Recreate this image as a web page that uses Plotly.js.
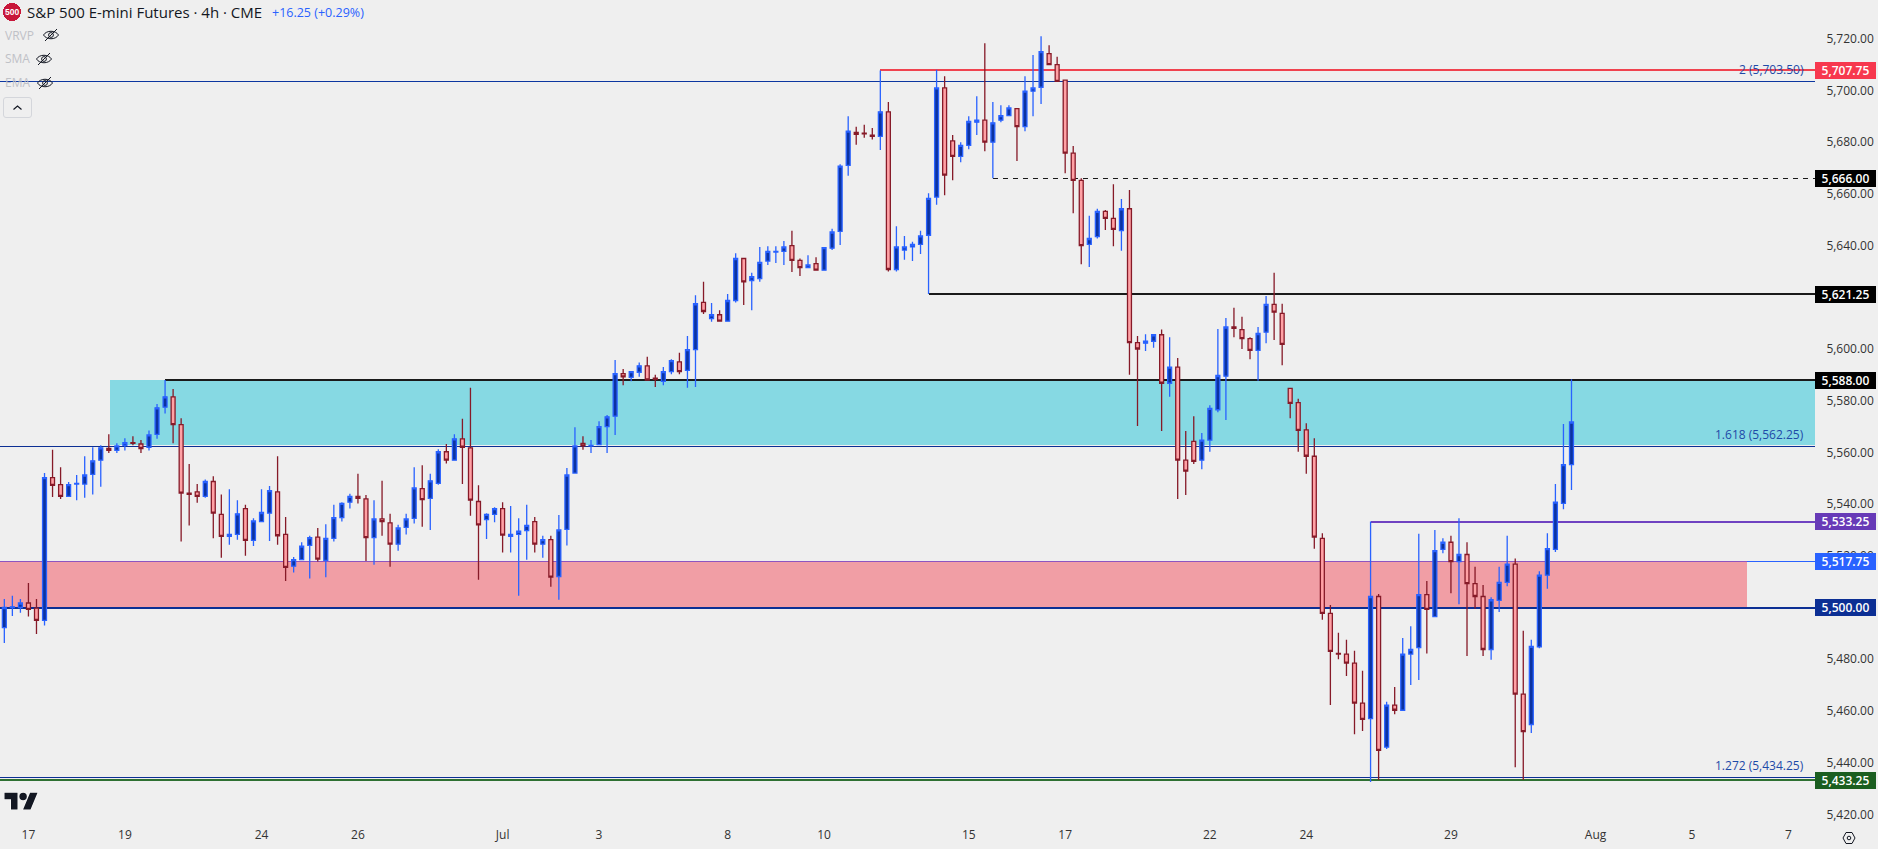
<!DOCTYPE html>
<html>
<head>
<meta charset="utf-8">
<title>S&amp;P 500 E-mini Futures</title>
<script src="https://cdn.plot.ly/plotly-3.0.1.min.js"></script>
<style>
html,body{margin:0;padding:0;background:#EFEFEF;overflow:hidden}
#chart{position:absolute;left:0;top:0;width:1878px;height:849px}
#icons{position:absolute;left:0;top:0;pointer-events:none}
.shapelayer path{shape-rendering:crispEdges}
</style>
</head>
<body>
<div id="chart"></div>
<svg id="icons" width="1878" height="849" xmlns="http://www.w3.org/2000/svg">
  <defs>
    <g id="eye" fill="none" stroke="#131722" stroke-width="1">
      <path d="M-7.5 0C-4.5 -5 4.5 -5 7.5 0C4.5 5 -4.5 5 -7.5 0Z"/>
      <circle r="2.4"/>
      <path d="M-6 6L6 -6"/>
    </g>
  </defs>
  <use href="#eye" x="51" y="35"/>
  <use href="#eye" x="44" y="59"/>
  <use href="#eye" x="45" y="83"/>
  <rect x="3.5" y="97.5" width="28" height="20" rx="2.5" fill="none" stroke="#D4D6DB"/>
  <path d="M13.5 109.5L17.5 106L21.5 109.5" fill="none" stroke="#131722" stroke-width="1.2"/>
  <g transform="translate(4.5,789) scale(0.93)">
    <path d="M14 22H7V11H0V4h14v18zM28 22h-8l7.5-18h8L28 22z" fill="#131722" stroke="#fff" stroke-width="1.2" paint-order="stroke"/>
    <circle cx="20" cy="8" r="4" fill="#131722" stroke="#fff" stroke-width="1.2" paint-order="stroke"/>
  </g>
  <path d="M1843 838L1846 832.5H1852L1855 838L1852 843.5H1846Z" fill="none" stroke="#131722" stroke-width="1"/>
  <circle cx="1849" cy="838" r="1.8" fill="none" stroke="#131722" stroke-width="1"/>
</svg>
<script>
const opens = [
5492.25,5500,5500,5501.75,5499.75,5495,5550.25,5547.5,5543,5547.75,
5547.75,5551.5,5557,5561.5,5560.75,5562.75,5563.75,5563.25,5562,5567,
5577.5,5581.5,5570.75,5544.25,5544.75,5543,5548.75,5536,5527.5,5528.25,
5538.25,5526,5533.25,5536.5,5544.75,5528.25,5516,5518.5,5524,5527.25,
5518.25,5526.75,5534.75,5540.75,5543,5542,5527,5534.25,5532.75,5524.5,
5531,5534.5,5546,5542.25,5548,5560.25,5557,5565.25,5561.75,5541,
5534,5536,5538.25,5527.5,5528.25,5529.75,5533.25,5524.5,5526.25,5512,
5530.25,5552,5563.5,5562.5,5563,5570,5574,5590.5,5589,5591,
5593.5,5588.75,5587.5,5591.25,5595,5591.75,5599.75,5618,5611.75,5613.25,
5610.75,5618.75,5635,5626.5,5627.25,5634,5637.5,5637.75,5640,5634.25,
5631.5,5633,5630.5,5639,5645.5,5671,5683.75,5683.5,5682.75,5682.25,
5691.75,5630.75,5638.25,5639.5,5640.5,5644,5658.75,5701,5680.5,5674.5,
5678.75,5687.75,5688.5,5680,5688.5,5690.25,5693,5686,5699.75,5701.25,
5714.25,5710,5704,5675.75,5665.25,5640.5,5643.5,5653.25,5650.5,5645.75,
5654.25,5602.5,5602.25,5603,5605.5,5586.75,5593,5557,5564.25,5557,
5564.75,5576.5,5589.5,5608.5,5607.5,5604,5599.5,5606.5,5617.25,5613.75,
5584.75,5579.25,5568.75,5558.5,5526.75,5497.75,5482.25,5482,5478.5,5463,
5457,5504.25,5446,5462.25,5460.25,5482,5484.5,5505,5496.5,5522.5,
5525.25,5517.75,5520.5,5509.25,5504.25,5483.75,5502.75,5509.75,5516.75,5466.5,
5454.75,5484.75,5512.5,5522.5,5540.25,5555.25];
const highs = [
5503.25,5504.5,5503.25,5509.5,5503.25,5552,5561,5554.25,5548.5,5551.25,
5558.5,5562,5562.75,5567,5563.5,5565.5,5566.25,5564.75,5568.5,5578.75,
5588,5584.5,5573.25,5555.5,5547.75,5549.5,5550.75,5543.75,5545.75,5541.5,
5539.75,5534.5,5545.75,5547,5558.5,5535,5519.5,5525.25,5527.75,5530.75,
5532.25,5539.75,5540.75,5544,5551.75,5543.5,5541.5,5549,5536.25,5532,
5536.25,5554.25,5555,5551.75,5561.25,5563.25,5567,5573,5585,5547.25,
5536.5,5538.75,5540.75,5539.25,5534.5,5539.75,5535,5527.75,5527.75,5535.75,
5554,5569.75,5566.25,5564.75,5572,5574.5,5595.75,5592.25,5591.25,5594.75,
5597,5590,5593,5596,5598.5,5605,5620.75,5626,5617.75,5615,
5621.25,5637,5635.25,5629.5,5639.5,5639.75,5639.75,5641.75,5645.75,5635,
5636.25,5635.5,5639.25,5646.5,5671.5,5690,5686,5686.75,5685.5,5707.75,
5695.5,5647.5,5643.75,5641.5,5645.75,5660.25,5708,5705.5,5682.75,5680,
5690,5697.75,5718.25,5695.5,5694.25,5694.25,5693,5705.5,5713.75,5721,
5717.5,5713,5704,5678.5,5666,5651.5,5654.25,5653.75,5663.75,5658,
5661.5,5605,5605.75,5605.5,5607.5,5604.5,5596.5,5568.25,5574,5567.5,
5578.25,5607.75,5612,5616,5612.5,5604.5,5608.5,5620.5,5629.5,5617.5,
5584.75,5580.75,5571.25,5565.5,5528.75,5501,5490.25,5487.5,5483.25,5475.5,
5533.25,5505.25,5463.5,5469.25,5488.25,5492.75,5528.5,5510.25,5530,5526.75,
5527.75,5534.5,5525.25,5515.75,5508.75,5504,5515.75,5527.75,5519,5491,
5487.5,5514,5528.75,5547.75,5571,5588.25];
const lows = [
5486.25,5496.75,5498,5496.5,5489.75,5493,5542.75,5542,5542.75,5541.5,
5542.5,5543.75,5546.75,5559.75,5559.75,5560.75,5562.75,5559.75,5560.75,5565.25,
5575,5563.5,5525.5,5531.75,5540.5,5542.5,5526.75,5519.25,5524.25,5526.25,
5520,5523.75,5533.25,5525.75,5524.25,5510.25,5513.5,5518.5,5511.25,5517.75,
5511.75,5525.5,5533.25,5538.25,5540.25,5518,5516.5,5527.75,5515.75,5522,
5528.25,5532.5,5531.25,5530,5547.5,5555.75,5557,5547.75,5535.5,5510.75,
5526.5,5533,5521.25,5521.25,5504.5,5518.5,5521.25,5519.25,5508,5503,
5524,5552,5561,5559.75,5563,5559.75,5566.75,5586,5587.5,5589.25,
5587.75,5585.25,5586,5590.25,5590.25,5585,5585.25,5613.5,5610.5,5610.5,
5610.5,5618,5617,5615,5626,5632.5,5633.25,5632.5,5629.75,5628.25,
5631.5,5630.25,5630.25,5638.25,5640.25,5667,5679,5681.75,5681,5677,
5630,5630,5634.5,5634,5636.75,5621.25,5655.75,5659.5,5665.25,5672.25,
5677.25,5682.75,5676.5,5666,5687.75,5690.25,5672.75,5684.25,5690,5694.75,
5710,5703.5,5668,5652.5,5632.75,5631.75,5642.75,5646,5639.75,5638,
5590,5570.25,5599.25,5600.5,5568.25,5581.5,5542,5543.5,5555.5,5553.5,
5560.25,5575.5,5572.5,5604.5,5600,5596,5587.75,5602.25,5603.5,5593.75,
5573.25,5560.25,5551.75,5522.75,5495.25,5462.25,5480,5473.5,5451,5452.25,
5432.5,5433.25,5445.25,5458.75,5460,5470,5472,5482.25,5496.5,5521,
5505.5,5501.25,5481.25,5499.5,5481.25,5479.75,5498.25,5508.25,5438.25,5433.25,
5451.5,5484.25,5507.25,5521.5,5538,5545.5];
const closes = [
5500,5500.25,5501.75,5499.25,5495,5550.25,5547.25,5543,5547.5,5548,
5551.25,5556.75,5561.75,5560.75,5562.5,5563.75,5563.5,5561.5,5566.75,5577.25,
5581.5,5570.75,5544.25,5543.75,5543,5548.75,5536.5,5527.5,5528.25,5536.25,
5526,5533.5,5536.75,5545.25,5527.75,5515.5,5518.5,5523.75,5527,5518.75,
5526.75,5534.75,5540.25,5543,5542.25,5527,5534.25,5533.25,5524.5,5530.75,
5534.25,5546.25,5541.75,5549,5560.25,5557,5565.25,5562,5541.5,5532,
5536,5538.25,5528,5528.25,5529.5,5531.75,5524.5,5526.25,5511.75,5530,
5551.25,5562.5,5562.5,5562.75,5570,5573.75,5590.5,5589.25,5591.25,5593.5,
5588,5588.25,5591.25,5595.5,5591.25,5599.75,5617.5,5614.5,5613.25,5610.75,
5618.75,5635,5626,5628,5633.5,5637.75,5637.75,5639.5,5634.25,5631.5,
5632.5,5630.5,5639.25,5645.25,5670.75,5684.25,5683,5683.25,5682.25,5691.75,
5630.75,5639.5,5639.5,5640.5,5643.75,5658.25,5701,5667.25,5674.5,5678.75,
5688,5688.5,5680,5687.5,5690.25,5693.25,5686,5699.75,5701,5715,
5710,5703.5,5675.75,5665.25,5640,5642.75,5653.25,5650.5,5646.25,5654.25,
5602.5,5600,5603,5605.5,5586.75,5593,5557,5552.75,5556.5,5564.75,
5577,5589.75,5608.5,5608,5604,5599.5,5606,5617.25,5614.25,5601.75,
5579,5568.5,5558.5,5527.25,5497.75,5483,5482,5478.5,5463,5456.75,
5504.25,5444.75,5462.25,5460.25,5482,5483.75,5505,5499.25,5522,5525.25,
5517.75,5520.5,5509.25,5504.25,5483.75,5503,5509.75,5516.75,5466.5,5452,
5485,5512.5,5522.75,5540.75,5555.25,5571.75];
const candleIndex = opens.map((_, i) => i);

const tickIndex = [3,15,32,44,62,74,90,102,120,132,150,162,180,198,210,222];
const tickLabels = ["17","19","24","26","Jul","3","8","10","15","17","22","24","29","Aug","5","7"];
const yTicks = [5420,5440,5460,5480,5500,5520,5540,5560,5580,5600,5620,5640,5660,5680,5700,5720];

const priceTags = [
  {value:5707.75,text:"5,707.75",color:"#F7384E"},
  {value:5666,text:"5,666.00",color:"#000000"},
  {value:5621.25,text:"5,621.25",color:"#000000"},
  {value:5588,text:"5,588.00",color:"#000000"},
  {value:5533.25,text:"5,533.25",color:"#673AB7"},
  {value:5517.75,text:"5,517.75",color:"#2962FF"},
  {value:5500,text:"5,500.00",color:"#0C2F94"},
  {value:5433.25,text:"5,433.25",color:"#1B5E20"}
];
const fibLabels = [
  {value:5703.5,text:"2 (5,703.50)"},
  {value:5562.25,text:"1.618 (5,562.25)"},
  {value:5434.25,text:"1.272 (5,434.25)"}
];

const X_MIN=-0.539, X_MAX=225.3, Y_MIN=5417.8, Y_MAX=5735;
const W=1815, H=820;
const FONT='"Open Sans","Noto Sans",sans-serif';

function hline(v,x0,x1,color,width,dash){
  return {type:'line',layer:'below',xref:'x',yref:'y',x0:x0,x1:x1,y0:v,y1:v,line:{color:color,width:width,dash:dash||'solid'}};
}
const shapes=[
  {type:'rect',layer:'below',xref:'x',yref:'y',x0:13.15,x1:X_MAX,y0:5562.75,y1:5588,fillcolor:'#86D9E3',line:{width:0}},
  {type:'rect',layer:'below',xref:'x',yref:'y',x0:X_MIN,x1:216.85,y0:5500,y1:5517.75,fillcolor:'#F19EA5',line:{width:0}},
  hline(5517.75,X_MIN,216.85,'#8E55C0',1),
  hline(5703.5,X_MIN,X_MAX,'#0C36A0',1),
  hline(5707.75,109,X_MAX,'#F0434F',2),
  hline(5666,123,X_MAX,'#1A1A1A',1,'5px,5px'),
  hline(5621.25,115,X_MAX,'#1A1A1A',2),
  hline(5588,20,X_MAX,'#1A1A1A',2),
  hline(5562.25,X_MIN,X_MAX,'#0C2F94',1),
  hline(5533.25,170,X_MAX,'#6F42C1',2),
  hline(5517.75,216.85,X_MAX,'#2962FF',1),
  hline(5500,X_MIN,X_MAX,'#0C2F94',2),
  hline(5434.25,X_MIN,X_MAX,'#0C2F94',1),
  hline(5433.25,X_MIN,X_MAX,'#2E7032',2),
  {type:'circle',layer:'above',xref:'paper',yref:'paper',x0:3/W,x1:21/W,y0:1-21/H,y1:1-3/H,fillcolor:'#C8173A',line:{width:0}}
];

function txt(px,py,text,size,color,extra){
  return Object.assign({xref:'paper',yref:'paper',x:px/W,y:1-py/H,text:text,showarrow:false,xanchor:'left',yanchor:'middle',
    font:{family:FONT,size:size,color:color}},extra||{});
}
const annotations=[
  txt(25,12,'S&amp;P 500 E-mini Futures · 4h · CME',15,'#131722'),
  txt(270,12,'+16.25 (+0.29%)',12.5,'#2962FF'),
  txt(3,35,'VRVP',12,'#BFC1C7'),
  txt(3,59,'SMA',12,'#BFC1C7'),
  txt(3,83,'EMA',12,'#BFC1C7'),
  txt(12,12,'500',8.5,'#FFFFFF',{xanchor:'center',font:{family:'"Liberation Sans",sans-serif',size:8.5,color:'#FFFFFF',weight:700}})
];
fibLabels.forEach(f=>annotations.push({xref:'paper',yref:'y',x:1806/W,y:f.value,yshift:12,text:f.text,showarrow:false,xanchor:'right',yanchor:'middle',
  font:{family:FONT,size:12,color:'#1E4AA8'}}));
priceTags.forEach(t=>annotations.push({xref:'paper',yref:'y',x:1,y:t.value,text:t.text,showarrow:false,xanchor:'left',yanchor:'middle',
  width:61,height:17,borderpad:0,borderwidth:0,bgcolor:t.color,align:'center',
  font:{family:FONT,size:12,color:'#FFFFFF',weight:600}}));

const trace={
  type:'candlestick',x:candleIndex,open:opens,high:highs,low:lows,close:closes,
  whiskerwidth:0,hoverinfo:'skip',
  increasing:{line:{color:'#2962FF',width:1.3},fillcolor:'#0C33A0'},
  decreasing:{line:{color:'#861A28',width:1.3},fillcolor:'#FFA1A5'}
};
const layout={
  width:1878,height:849,showlegend:false,paper_bgcolor:'#EFEFEF',plot_bgcolor:'#EFEFEF',
  margin:{l:0,r:63,t:0,b:29,pad:0},dragmode:false,hovermode:false,
  xaxis:{type:'linear',range:[X_MIN,X_MAX],tickmode:'array',tickvals:tickIndex,ticktext:tickLabels,showgrid:false,zeroline:false,showline:false,
    ticks:'outside',ticklen:4,tickcolor:'rgba(0,0,0,0)',tickfont:{family:FONT,size:12,color:'#333333'},rangeslider:{visible:false},fixedrange:true},
  yaxis:{type:'linear',side:'right',range:[Y_MIN,Y_MAX],tickmode:'array',tickvals:yTicks,ticktext:yTicks.map(v=>v.toLocaleString('en-US',{minimumFractionDigits:2})),
    showgrid:false,zeroline:false,showline:false,ticks:'outside',ticklen:8,tickcolor:'rgba(0,0,0,0)',tickfont:{family:FONT,size:12,color:'#333333'},fixedrange:true},
  shapes:shapes,annotations:annotations
};
Plotly.newPlot('chart',[trace],layout,{displayModeBar:false,staticPlot:true});
</script>
</body>
</html>
